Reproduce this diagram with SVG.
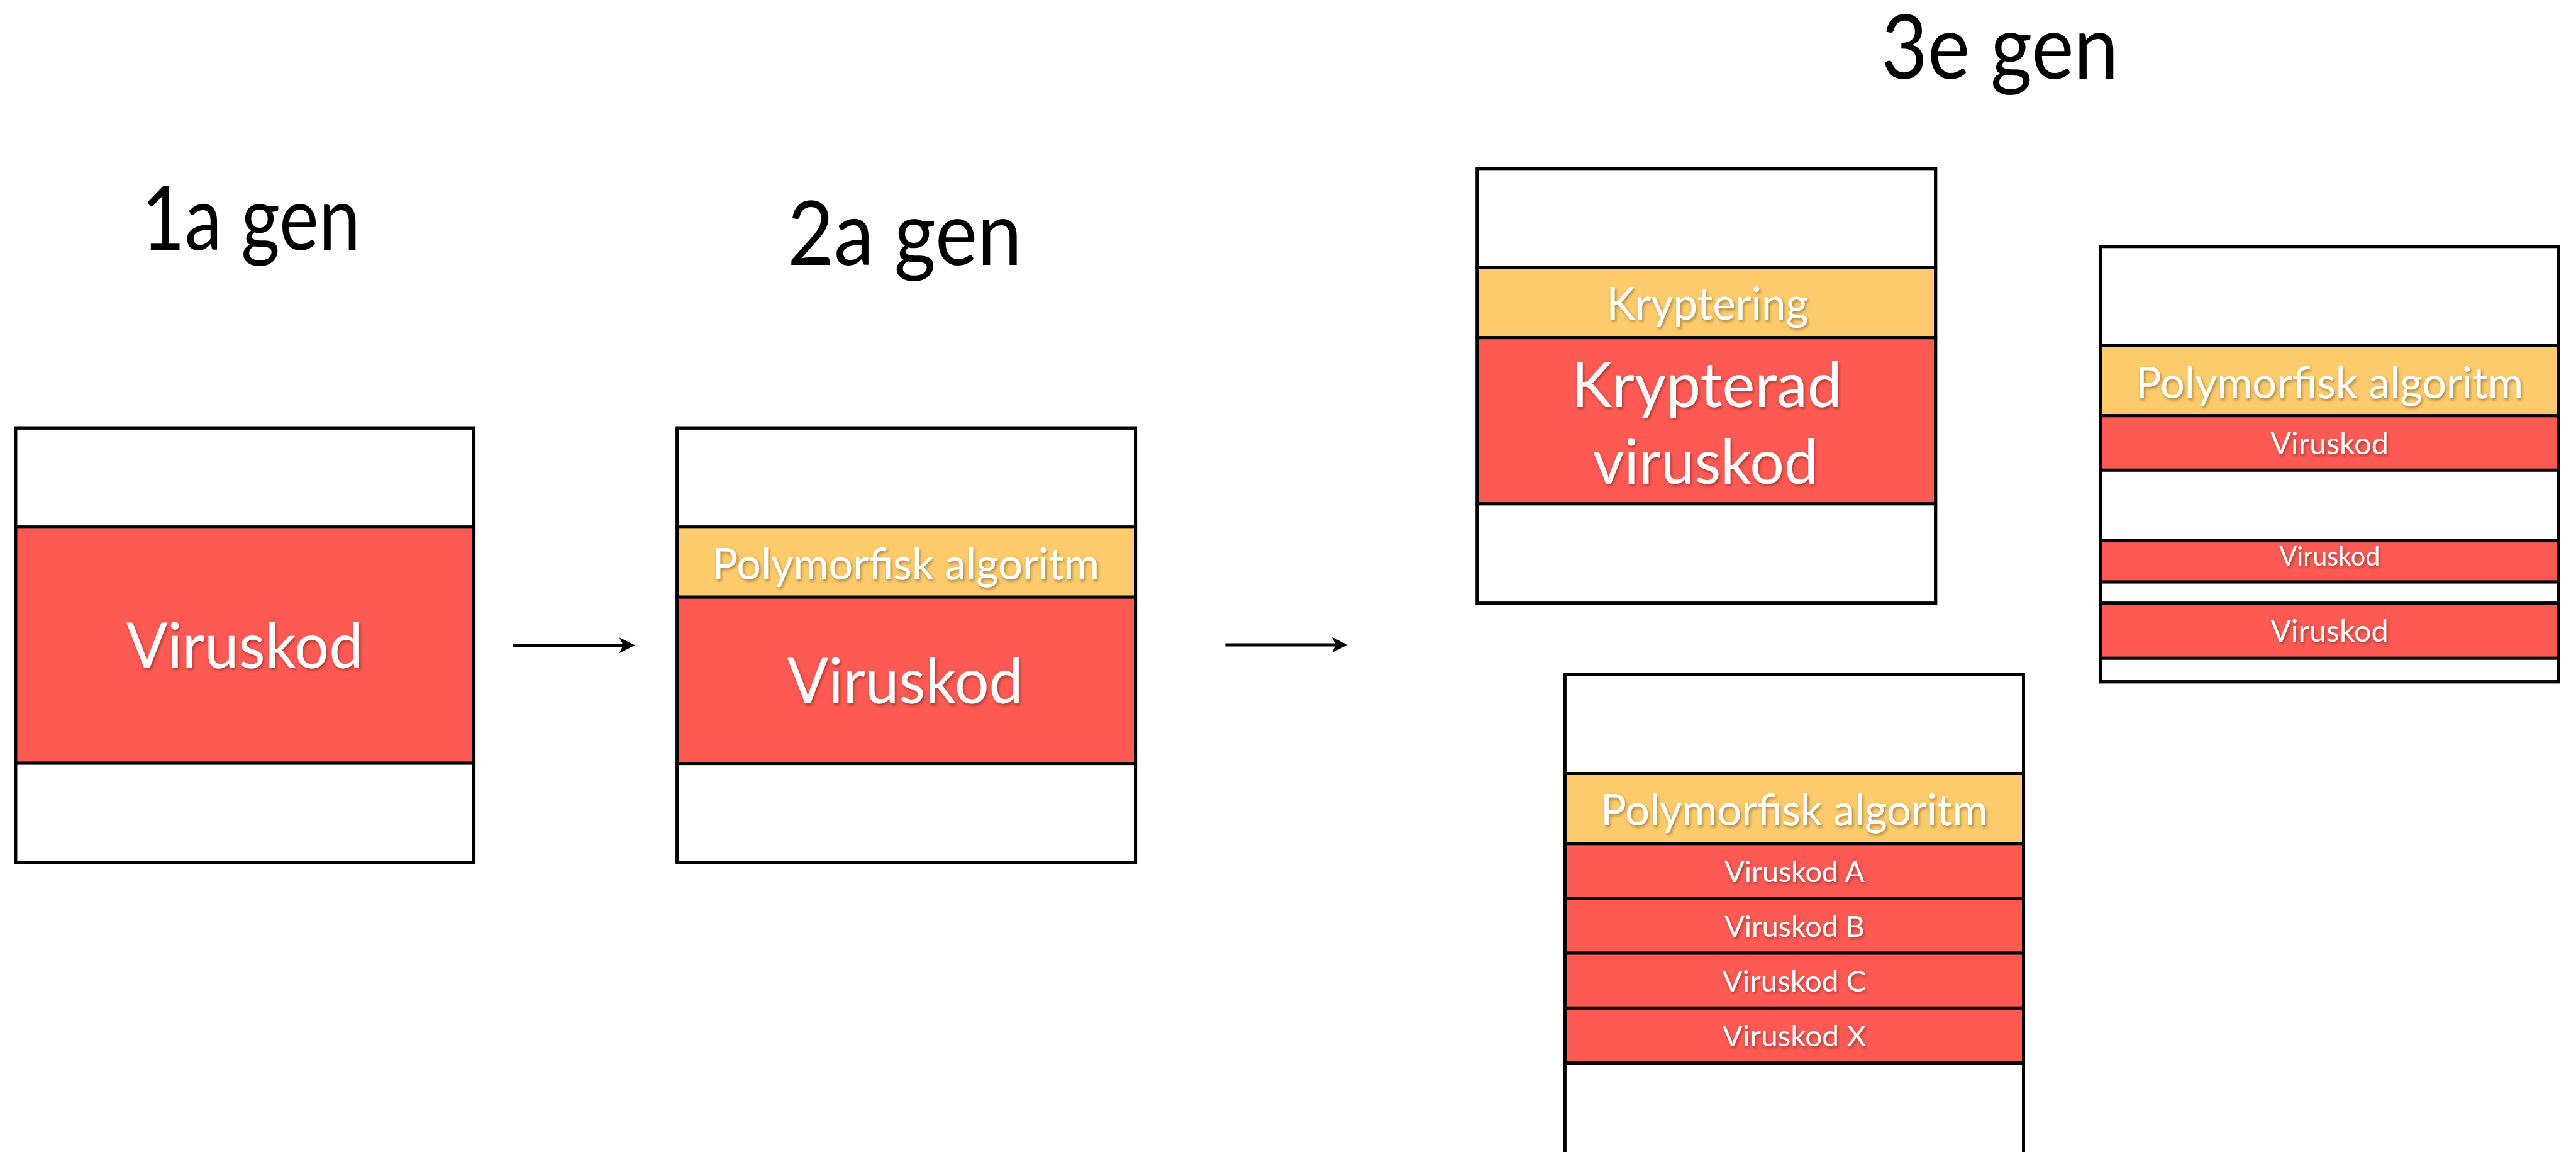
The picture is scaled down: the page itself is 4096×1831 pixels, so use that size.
<svg xmlns="http://www.w3.org/2000/svg" width="4096" height="1831" viewBox="0 0 4096 1831">
<defs>
<style>
.title{font-family:Lato,"Liberation Sans",sans-serif;font-size:142px;fill:#000;text-anchor:middle}
.lbl{font-family:Lato,"Liberation Sans",sans-serif;fill:#fff;text-anchor:middle;filter:url(#sh)}
.frame{fill:none;stroke:#000;stroke-width:5}
.w{fill:#fff;stroke:#000;stroke-width:5}
.r{fill:#FE5A53;stroke:#000;stroke-width:5}
.y{fill:#FDCB6B;stroke:#000;stroke-width:5}
.conn{stroke:#000;stroke-width:5;fill:none;marker-end:url(#ah)}
</style>
<filter id="sh" x="-10%" y="-30%" width="120%" height="160%">
<feDropShadow dx="2" dy="3" stdDeviation="2.5" flood-color="#000" flood-opacity="0.35"/>
</filter>
<marker id="ah" markerUnits="userSpaceOnUse" markerWidth="25" markerHeight="25" refX="6" refY="12.5" orient="auto" viewBox="0 0 25 25">
<path d="M0,0 L25,12.5 L0,25 L6,12.5 Z" fill="#000"/>
</marker>
</defs>
<rect width="4096" height="1831" fill="#fff"/>
<g transform="scale(0.99153)">
<g id="titles">
<text class="title" x="402.4" y="400.7" textLength="351" lengthAdjust="spacingAndGlyphs">1a gen</text>
<text class="title" x="1450.9" y="424.3" textLength="376" lengthAdjust="spacingAndGlyphs">2a gen</text>
<text class="title" x="3207" y="126" textLength="380.6" lengthAdjust="spacingAndGlyphs">3e gen</text>
</g>
<g id="gen1">
<rect class="w" x="25" y="686" width="735" height="159"/>
<rect class="r" x="25" y="845" width="735" height="378.5"/>
<rect class="w" x="25" y="1223.5" width="735" height="159.5"/>
<rect class="frame" x="25" y="686" width="735" height="697"/>
<text class="lbl" x="392.5" y="1071.5" font-size="101" textLength="380" lengthAdjust="spacingAndGlyphs">Viruskod</text>
</g>
<g id="gen2">
<rect class="w" x="1086" y="686" width="735" height="159"/>
<rect class="y" x="1086" y="845" width="735" height="112.3"/>
<rect class="r" x="1086" y="957.3" width="735" height="266.7"/>
<rect class="w" x="1086" y="1224" width="735" height="159"/>
<rect class="frame" x="1086" y="686" width="735" height="697"/>
<text class="lbl" x="1452.3" y="929" font-size="71" textLength="621" lengthAdjust="spacingAndGlyphs">Polymorfisk algoritm</text>
<text class="lbl" x="1451.5" y="1128" font-size="101" textLength="378" lengthAdjust="spacingAndGlyphs">Viruskod</text>
</g>
<g id="gen3-encrypted">
<rect class="w" x="2369" y="270" width="735" height="159"/>
<rect class="y" x="2369" y="429" width="735" height="112.3"/>
<rect class="r" x="2369" y="541.3" width="735" height="266.4"/>
<rect class="w" x="2369" y="807.7" width="735" height="159.3"/>
<rect class="frame" x="2369" y="270" width="735" height="697"/>
<text class="lbl" x="2738" y="512.6" font-size="72" textLength="323.5" lengthAdjust="spacingAndGlyphs">Kryptering</text>
<text class="lbl" x="2736.6" y="652.3" font-size="100" textLength="434" lengthAdjust="spacingAndGlyphs">Krypterad</text>
<text class="lbl" x="2735" y="775.7" font-size="100" textLength="361" lengthAdjust="spacingAndGlyphs">viruskod</text>
</g>
<g id="gen3-scattered">
<rect class="w" x="3368" y="395" width="735" height="159"/>
<rect class="y" x="3368" y="554" width="735" height="112.4"/>
<rect class="r" x="3368" y="666.4" width="735" height="87.3"/>
<rect class="w" x="3368" y="753.7" width="735" height="113.3"/>
<rect class="r" x="3368" y="867" width="735" height="66"/>
<rect class="w" x="3368" y="933" width="735" height="34"/>
<rect class="r" x="3368" y="967" width="735" height="88.2"/>
<rect class="w" x="3368" y="1055.2" width="735" height="37.8"/>
<rect class="frame" x="3368" y="395" width="735" height="698"/>
<text class="lbl" x="3735.5" y="638" font-size="71" textLength="621.5" lengthAdjust="spacingAndGlyphs">Polymorfisk algoritm</text>
<text class="lbl" x="3735.7" y="727.7" font-size="49" textLength="189" lengthAdjust="spacingAndGlyphs">Viruskod</text>
<text class="lbl" x="3736" y="906.6" font-size="43" textLength="161.4" lengthAdjust="spacingAndGlyphs">Viruskod</text>
<text class="lbl" x="3735.5" y="1028.3" font-size="49" textLength="189" lengthAdjust="spacingAndGlyphs">Viruskod</text>
</g>
<g id="gen3-variants">
<rect class="w" x="2509.5" y="1081.5" width="735.5" height="158.5"/>
<rect class="y" x="2509.5" y="1240" width="735.5" height="112.3"/>
<rect class="r" x="2509.5" y="1352.3" width="735.5" height="87.7"/>
<rect class="r" x="2509.5" y="1440" width="735.5" height="88"/>
<rect class="r" x="2509.5" y="1528" width="735.5" height="88"/>
<rect class="r" x="2509.5" y="1616" width="735.5" height="88"/>
<rect class="w" x="2509.5" y="1704" width="735.5" height="166"/>
<rect class="frame" x="2509.5" y="1081.5" width="735.5" height="788.5"/>
<text class="lbl" x="2877.3" y="1323.5" font-size="71" textLength="621" lengthAdjust="spacingAndGlyphs">Polymorfisk algoritm</text>
<text class="lbl" x="2877.9" y="1413.8" font-size="47" textLength="224.5" lengthAdjust="spacingAndGlyphs">Viruskod A</text>
<text class="lbl" x="2877.9" y="1501.7" font-size="47" textLength="224.5" lengthAdjust="spacingAndGlyphs">Viruskod B</text>
<text class="lbl" x="2877.4" y="1589.5" font-size="47" textLength="230.8" lengthAdjust="spacingAndGlyphs">Viruskod C</text>
<text class="lbl" x="2877.4" y="1677.3" font-size="47" textLength="230.8" lengthAdjust="spacingAndGlyphs">Viruskod X</text>
</g>
<g id="connectors">
<line class="conn" x1="822.7" y1="1034.3" x2="999.3" y2="1034.3"/>
<line class="conn" x1="1965" y1="1033.8" x2="2142" y2="1033.8"/>
</g>
</g>
</svg>
